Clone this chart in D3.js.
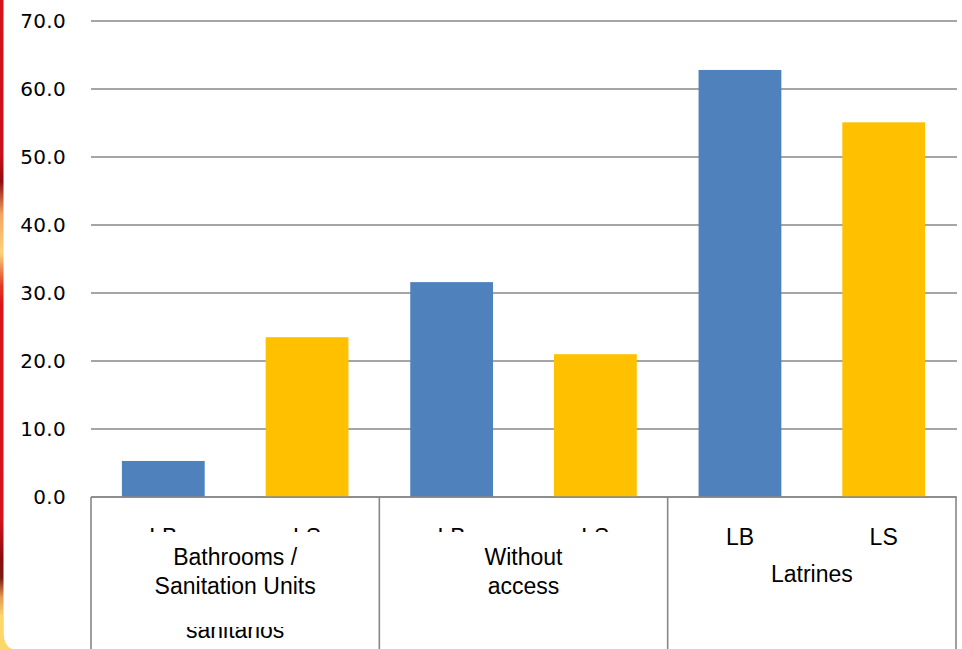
<!DOCTYPE html>
<html>
<head>
<meta charset="utf-8">
<script src="https://cdn.jsdelivr.net/npm/d3@7"></script>
<style>
  html, body { margin: 0; padding: 0; background: #ffffff; }
  svg { display: block; }
</style>
</head>
<body>
<svg id="chart" width="962" height="649"></svg>
<script>
// Sanitation facilities by survey: baseline (LB) vs. follow-up (LS), in %
const categories = ["Bathrooms / Sanitation Units", "Without access", "Latrines"];
const categoryLines = [["Bathrooms /", "Sanitation Units"], ["Without", "access"], ["Latrines"]];
const seriesNames = ["LB", "LS"];
const lbValues = [5.3, 31.6, 62.8];
const lsValues = [23.5, 21.0, 55.1];
const yTicks = [0, 10, 20, 30, 40, 50, 60, 70];

const colors = { LB: "#4f81bd", LS: "#ffc000" };
const gridColor = "#878787";

const W = 962, H = 649;
const margin = { left: 91, right: 6, top: 21, bottom: 152 };
const svg = d3.select("#chart");

const rows = categories.map((c, i) => ({
  category: c,
  lines: categoryLines[i],
  values: [ { key: "LB", value: lbValues[i] }, { key: "LS", value: lsValues[i] } ]
}));

const x0 = d3.scaleBand()
  .domain(categories)
  .range([margin.left, W - margin.right])
  .padding(0);

const x1 = d3.scaleBand()
  .domain(seriesNames)
  .range([0, x0.bandwidth()])
  .paddingInner(0.424)
  .paddingOuter(0.215);

const y = d3.scaleLinear()
  .domain([0, 70])
  .range([H - margin.bottom, margin.top]);

// decorative slide frame on the left edge
const defs = svg.append("defs");
const grad = defs.append("linearGradient")
  .attr("id", "frameGrad").attr("x1", 0).attr("y1", 0).attr("x2", 0).attr("y2", 1);
[
  [0.00, "#d3141b"], [0.24, "#c8101a"], [0.28, "#8e0c10"], [0.33, "#f3a560"],
  [0.39, "#fbd27a"], [0.44, "#e23a22"], [0.47, "#d8141a"], [0.80, "#d3141b"],
  [0.86, "#8a0c0e"], [0.89, "#7a1a10"], [0.92, "#e59a50"], [0.95, "#fcd56e"],
  [1.00, "#ffd966"]
].forEach(([o, c]) => grad.append("stop").attr("offset", o).attr("stop-color", c));

svg.append("rect")
  .attr("x", 0).attr("y", 0).attr("width", 3.5).attr("height", H)
  .attr("fill", "url(#frameGrad)");
svg.append("path")
  .attr("d", "M0,615 L3.5,615 L3.5,632 Q3.5,646 12,649 L0,649 Z")
  .attr("fill", "#fdd768");

// horizontal gridlines
svg.append("g")
  .selectAll("line")
  .data(yTicks)
  .join("line")
  .attr("x1", margin.left).attr("x2", W - margin.right + 1)
  .attr("y1", d => y(d)).attr("y2", d => y(d))
  .attr("stroke", gridColor).attr("stroke-width", 1.6);

// y tick labels
const yAxis = d3.axisLeft(y).tickValues(yTicks).tickFormat(d3.format(".1f")).tickSize(0).tickPadding(0);
const gy = svg.append("g").attr("transform", "translate(66,0)").call(yAxis);
gy.select(".domain").remove();
gy.selectAll("text")
  .attr("font-family", "DejaVu Sans, Verdana, sans-serif")
  .attr("font-size", 20)
  .attr("letter-spacing", 0.3)
  .attr("fill", "#000");

// bars
const groups = svg.append("g")
  .selectAll("g")
  .data(rows)
  .join("g")
  .attr("transform", d => `translate(${x0(d.category)},0)`);

groups.selectAll("rect")
  .data(d => d.values)
  .join("rect")
  .attr("x", d => x1(d.key))
  .attr("width", x1.bandwidth())
  .attr("y", d => y(d.value))
  .attr("height", d => y(0) - y(d.value))
  .attr("fill", d => colors[d.key]);

// category axis box
const axisY = y(0);
const bounds = categories.map(c => x0(c)).concat([x0(categories[2]) + x0.bandwidth()]);
svg.append("line")
  .attr("x1", margin.left).attr("x2", W - margin.right)
  .attr("y1", axisY).attr("y2", axisY)
  .attr("stroke", gridColor).attr("stroke-width", 1.6);
svg.append("g")
  .selectAll("line")
  .data(bounds)
  .join("line")
  .attr("x1", d => d).attr("x2", d => d)
  .attr("y1", axisY).attr("y2", H)
  .attr("stroke", gridColor).attr("stroke-width", 1.6);

const labelFont = "Liberation Sans, Arial, sans-serif";

// series labels under each bar
groups.selectAll("text.series")
  .data(d => d.values)
  .join("text")
  .attr("class", "series")
  .attr("x", d => x1(d.key) + x1.bandwidth() / 2)
  .attr("y", 545)
  .attr("text-anchor", "middle")
  .attr("font-family", labelFont)
  .attr("font-size", 23)
  .attr("fill", "#000")
  .text(d => d.key);

// leftover line of an earlier label in the first group
svg.append("text")
  .attr("x", x0(categories[0]) + x0.bandwidth() / 2)
  .attr("y", 638)
  .attr("text-anchor", "middle")
  .attr("font-family", labelFont)
  .attr("font-size", 23)
  .attr("fill", "#000")
  .text("sanitarios");

// white label boxes pasted over the first two groups
svg.append("g")
  .selectAll("rect")
  .data(categories.slice(0, 2))
  .join("rect")
  .attr("x", d => x0(d) + 8)
  .attr("width", x0.bandwidth() - 16)
  .attr("y", 532)
  .attr("height", 95)
  .attr("fill", "#ffffff");

// category labels, drawn on top of the boxes
const catLayer = svg.append("g");
rows.forEach(d => {
  const cx = x0(d.category) + x0.bandwidth() / 2;
  const startY = d.lines.length === 1 ? 582 : 565;
  d.lines.forEach((line, j) => {
    catLayer.append("text")
      .attr("x", cx)
      .attr("y", startY + j * 29)
      .attr("text-anchor", "middle")
      .attr("font-family", labelFont)
      .attr("font-size", 23)
      .attr("fill", "#000")
      .text(line);
  });
});
</script>
</body>
</html>
